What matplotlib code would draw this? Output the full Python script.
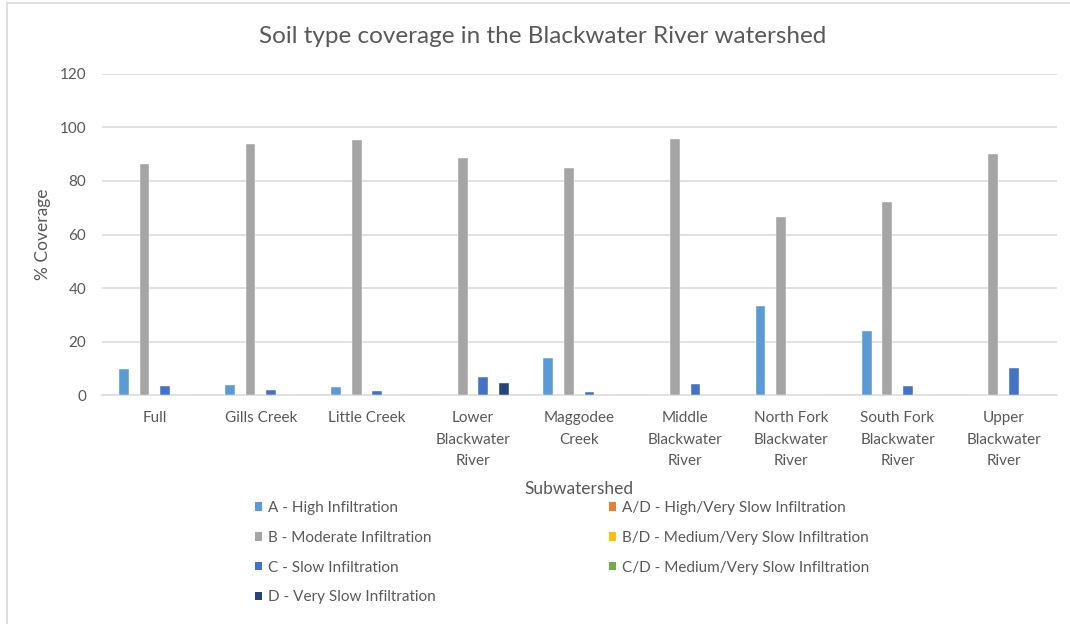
import matplotlib.pyplot as plt
import numpy as np
from matplotlib.patches import Patch, Rectangle

# categories (subwatersheds)
categories = ["Full", "Gills Creek", "Little Creek", "Lower\nBlackwater\nRiver",
              "Maggodee\nCreek", "Middle\nBlackwater\nRiver", "North Fork\nBlackwater\nRiver",
              "South Fork\nBlackwater\nRiver", "Upper\nBlackwater\nRiver"]

# % coverage per soil type
soil_a = [9.8, 4.0, 3.3, 0, 13.9, 0, 33.2, 24.1, 0]
soil_ad = [0, 0, 0, 0, 0, 0, 0, 0, 0]
soil_b = [86.3, 93.7, 95.2, 88.6, 84.9, 95.7, 66.6, 72.2, 90.0]
soil_bd = [0, 0, 0, 0, 0, 0, 0, 0, 0]
soil_c = [3.6, 2.2, 1.6, 7.0, 1.3, 4.4, 0, 3.6, 10.1]
soil_cd = [0, 0, 0, 0, 0, 0, 0, 0, 0]
soil_d = [0, 0, 0, 4.7, 0, 0, 0, 0, 0]

series_names = ["A - High Infiltration", "A/D - High/Very Slow Infiltration",
                "B - Moderate Infiltration", "B/D - Medium/Very Slow Infiltration",
                "C - Slow Infiltration", "C/D - Medium/Very Slow Infiltration",
                "D - Very Slow Infiltration"]
series_vals = [soil_a, soil_ad, soil_b, soil_bd, soil_c, soil_cd, soil_d]
colors = ["#5B9BD5", "#ED7D31", "#A5A5A5", "#FFC000", "#4472C4", "#70AD47", "#264478"]

plt.rcParams["font.family"] = ["Lato", "DejaVu Sans"]
txt = "#595959"

fig = plt.figure(figsize=(10.7, 6.24), dpi=100)
ax = fig.add_axes([0.095, 0.3662, 0.8926, 0.5157])

x = np.arange(len(categories))
slot = 0.097
handles = []
for i, (name, vals, col) in enumerate(zip(series_names, series_vals, colors)):
    ax.bar(x + (i - 3) * slot, vals, width=0.092, color=col, edgecolor="white",
           linewidth=0.3, zorder=3)
    handles.append(Patch(facecolor=col, label=name))

ax.set_xlim(-0.5, len(categories) - 0.5)
ax.set_ylim(0, 120)
ax.set_yticks(range(0, 121, 20))
ax.yaxis.grid(True, color="#D9D9D9", linewidth=1.1, zorder=0)
for s in ["top", "right", "left"]:
    ax.spines[s].set_visible(False)
ax.spines["bottom"].set_color("#D9D9D9")
ax.spines["bottom"].set_linewidth(1.1)
ax.tick_params(length=0, colors=txt, labelsize=11)
ax.tick_params(axis="y", pad=11)
ax.set_xticks(x)
ax.set_xticklabels(categories, linespacing=1.68, va="top")
ax.tick_params(axis="x", pad=11.5)

ax.set_ylabel("% Coverage", color=txt, fontsize=12.5, labelpad=6)
ax.set_xlabel("Subwatershed", color=txt, fontsize=12.5, labelpad=9)
fig.suptitle("Soil type coverage in the Blackwater River watershed", color=txt,
             fontsize=17.5, x=0.507, y=0.942, va="center")

# legend: column 1 = A,B,C,D ; column 2 = A/D,B/D,C/D
order = [0, 2, 4, 6, 1, 3, 5]
fig.legend([handles[k] for k in order], [series_names[k] for k in order],
           ncol=2, loc="upper left", bbox_to_anchor=(0.238, 0.197), frameon=False,
           fontsize=11, labelcolor=txt, handlelength=0.5, handleheight=0.5,
           handletextpad=0.35, columnspacing=11.35, labelspacing=1.03,
           borderpad=0, borderaxespad=0)

# chart area border
fig.patches.append(Rectangle((7 / 1070, -0.1), 1.2, 1 - 3 / 624 + 0.1,
                             transform=fig.transFigure, fill=False,
                             edgecolor="#D9D9D9", linewidth=1.2))

fig.savefig("out.png", dpi=100)
